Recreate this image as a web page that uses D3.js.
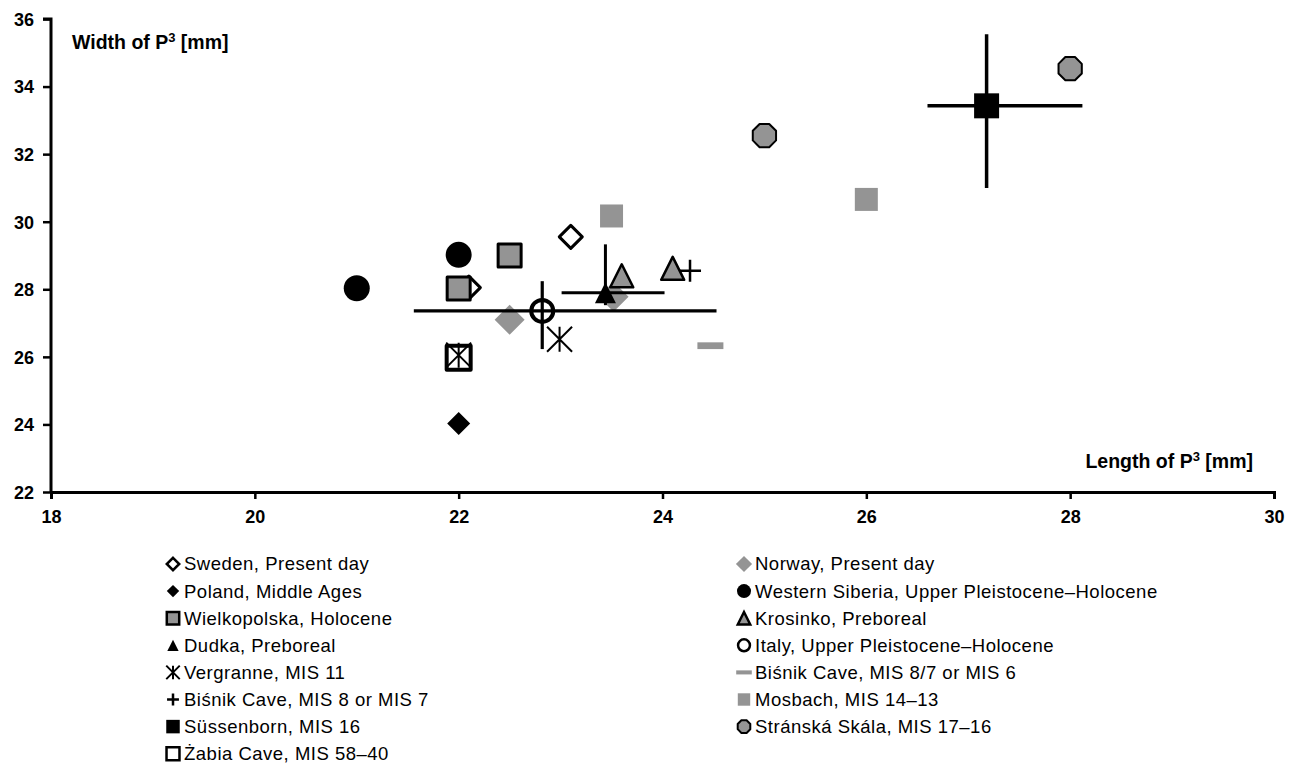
<!DOCTYPE html>
<html>
<head>
<meta charset="utf-8">
<script src="https://cdn.jsdelivr.net/npm/d3@7"></script>
<style>
  html, body { margin: 0; padding: 0; background: #fff; }
  svg { display: block; font-family: "Liberation Sans", Arial, sans-serif; }
</style>
</head>
<body>
<svg id="chart" width="1297" height="764"></svg>
<script>
// Axis ticks
const xTicks = [18, 20, 22, 24, 26, 28, 30];
const yTicks = [22, 24, 26, 28, 30, 32, 34, 36];

// P3 measurements per sample: [length, width] in mm
const sweden      = [[23.1, 29.55], [22.1, 28.05]];
const norway      = [[22.5, 27.1], [23.52, 27.78]];
const poland      = [[22.0, 24.03]];
const westSiberia = [[21.0, 28.03], [22.0, 29.02]];
const wielkopolska = [[22.0, 28.02], [22.5, 29.0]];
const krosinko    = [[23.6, 28.4], [24.1, 28.62]];
const dudka       = [[23.44, 27.9]];
const italy       = [[22.82, 27.36]];
const vergranne   = [[22.99, 26.52], [22.0, 26.05]];
const bisnik876   = [[24.47, 26.33]];
const bisnik87    = [[24.27, 28.55]];
const mosbach     = [[23.5, 30.17], [26.0, 30.66]];
const sussenborn  = [[27.18, 33.43]];
const stranska    = [[28.0, 34.53], [25.0, 32.55]];
const zabia       = [[22.0, 25.97]];

// Ranges (min/max) shown as cross bars: [xMin, xMax, yMin, yMax]
const dudkaRange      = [23.01, 24.02, 27.53, 29.33];
const italyRange      = [21.56, 24.53, 26.23, 28.24];
const sussenbornRange = [26.6, 28.12, 31.0, 35.55];

const legendNames = [
  "Sweden, Present day", "Norway, Present day",
  "Poland, Middle Ages", "Western Siberia, Upper Pleistocene\u2013Holocene",
  "Wielkopolska, Holocene", "Krosinko, Preboreal",
  "Dudka, Preboreal", "Italy, Upper Pleistocene\u2013Holocene",
  "Vergranne, MIS 11", "Bi\u015bnik Cave, MIS 8/7 or MIS 6",
  "Bi\u015bnik Cave, MIS 8 or MIS 7", "Mosbach, MIS 14\u201313",
  "S\u00fcssenborn, MIS 16", "Str\u00e1nsk\u00e1 Sk\u00e1la, MIS 17\u201316",
  "\u017babia Cave, MIS 58\u201340"
];

const GRAY = "#949494";

const series = [
  { data: sweden,       shape: "diamond",  size: 23, fill: "#fff", stroke: "#000", sw: 3 },
  { data: norway,       shape: "diamond",  size: 30, fill: GRAY,   stroke: "none", sw: 0 },
  { data: poland,       shape: "diamond",  size: 23, fill: "#000", stroke: "none", sw: 0 },
  { data: westSiberia,  shape: "circle",   size: 26, fill: "#000", stroke: "none", sw: 0 },
  { data: wielkopolska, shape: "square",   size: 23, fill: GRAY,   stroke: "#000", sw: 3 },
  { data: krosinko,     shape: "triangle", size: 23, fill: GRAY,   stroke: "#000", sw: 2.5 },
  { data: dudka,        shape: "triangle", size: 21, fill: "#000", stroke: "none", sw: 0 },
  { data: italy,        shape: "circle",   size: 22, fill: "#fff", stroke: "#000", sw: 4 },
  { data: vergranne,    shape: "asterisk", size: 25, fill: "none", stroke: "#000", sw: 2 },
  { data: bisnik876,    shape: "dash",     size: 26, fill: GRAY,   stroke: "none", sw: 0 },
  { data: bisnik87,     shape: "plus",     size: 22, fill: "none", stroke: "#000", sw: 2.5 },
  { data: mosbach,      shape: "square",   size: 23, fill: GRAY,   stroke: "none", sw: 0 },
  { data: sussenborn,   shape: "square",   size: 25, fill: "#000", stroke: "none", sw: 0 },
  { data: stranska,     shape: "octagon",  size: 24, fill: GRAY,   stroke: "#000", sw: 2 },
  { data: zabia,        shape: "square",   size: 24, fill: "none", stroke: "#000", sw: 4 }
];
series.forEach((s, i) => s.name = legendNames[i]);

// Legend runs in two columns: even entries left, odd entries right
const legendOrder = [0, 2, 4, 6, 8, 10, 12, 14, 1, 3, 5, 7, 9, 11, 13];

const svg = d3.select("#chart");
const margin = { left: 51, right: 1274, top: 19, bottom: 492 };

const x = d3.scaleLinear().domain([18, 30]).range([margin.left, margin.right]);
const y = d3.scaleLinear().domain([22, 36]).range([margin.bottom, margin.top]);

// Path for a marker of a given full size, centred at 0,0
function shapePath(shape, s) {
  const h = s / 2;
  const p = d3.path();
  switch (shape) {
    case "diamond":
      p.moveTo(0, -h); p.lineTo(h, 0); p.lineTo(0, h); p.lineTo(-h, 0); p.closePath(); break;
    case "square":
      p.rect(-h, -h, s, s); break;
    case "triangle":
      p.moveTo(0, -h); p.lineTo(h, h); p.lineTo(-h, h); p.closePath(); break;
    case "circle":
      p.arc(0, 0, h, 0, 2 * Math.PI); p.closePath(); break;
    case "octagon":
      for (let k = 0; k < 8; k++) {
        const a = Math.PI / 8 + k * Math.PI / 4;
        const r = h / Math.cos(Math.PI / 8) * 0.97;
        const px = r * Math.cos(a), py = r * Math.sin(a);
        if (k === 0) p.moveTo(px, py); else p.lineTo(px, py);
      }
      p.closePath(); break;
    case "asterisk":
      p.moveTo(-h, -h); p.lineTo(h, h);
      p.moveTo(h, -h); p.lineTo(-h, h);
      p.moveTo(0, -h); p.lineTo(0, h); break;
    case "plus":
      p.moveTo(-h, 0); p.lineTo(h, 0);
      p.moveTo(0, -h); p.lineTo(0, h); break;
    case "dash":
      p.rect(-h, -s * 0.13, s, s * 0.26); break;
  }
  return p.toString();
}

// Axes
const yAxis = d3.axisLeft(y).tickValues(yTicks).tickSize(8).tickPadding(9).tickFormat(d3.format("d"));
const xAxis = d3.axisBottom(x).tickValues(xTicks).tickSize(7).tickPadding(11).tickFormat(d3.format("d"));

const gy = svg.append("g").attr("transform", `translate(${margin.left},0)`).call(yAxis);
const gx = svg.append("g").attr("transform", `translate(0,${margin.bottom})`).call(xAxis);
[gx, gy].forEach(g => {
  g.select(".domain").attr("stroke", "#000").attr("stroke-width", 3);
  g.selectAll(".tick line").attr("stroke", "#000").attr("stroke-width", 2.5);
  g.selectAll(".tick text").attr("fill", "#000").attr("font-size", 18).attr("font-weight", "bold")
    .attr("font-family", "'Liberation Sans', Arial, sans-serif");
});
gy.select(".domain").attr("d", `M-8,${margin.top}H0V${margin.bottom}`);
gy.selectAll(".tick text").attr("dy", "0.35em");

// Axis titles
function axisTitle(tx, ty, anchor, word) {
  const t = svg.append("text").attr("x", tx).attr("y", ty).attr("text-anchor", anchor)
    .attr("font-size", 19.5).attr("font-weight", "bold").attr("fill", "#000");
  t.append("tspan").text(word + " of P");
  t.append("tspan").attr("font-size", 13).attr("dy", -7).text("3");
  t.append("tspan").attr("dy", 7).text(" [mm]");
}
axisTitle(72, 49, "start", "Width");
axisTitle(1253, 468, "end", "Length");

// Markers, in series order
const plot = svg.append("g");
series.forEach(s => {
  plot.selectAll(null).data(s.data).enter().append("path")
    .attr("transform", d => `translate(${x(d[0])},${y(d[1])})`)
    .attr("d", shapePath(s.shape, s.size))
    .attr("fill", s.fill)
    .attr("stroke", s.stroke)
    .attr("stroke-width", s.sw)
    .attr("stroke-linejoin", "round");
});

// Range cross bars
const ranges = [
  { pt: dudka[0], r: dudkaRange, w: 3 },
  { pt: italy[0], r: italyRange, w: 3.2 },
  { pt: sussenborn[0], r: sussenbornRange, w: 3.5 }
];
ranges.forEach(b => {
  const g = plot.append("g").attr("stroke", "#000").attr("stroke-width", b.w);
  g.append("line").attr("x1", x(b.r[0])).attr("x2", x(b.r[1]))
    .attr("y1", y(b.pt[1])).attr("y2", y(b.pt[1]));
  g.append("line").attr("x1", x(b.pt[0])).attr("x2", x(b.pt[0]))
    .attr("y1", y(b.r[2])).attr("y2", y(b.r[3]));
});

// Legend
const legend = svg.append("g");
legendOrder.forEach((si, k) => {
  const s = series[si];
  const col = k < 8 ? 0 : 1;
  const row = col === 0 ? k : k - 8;
  const lx = col === 0 ? 173 : 744;
  const ly = 564 + row * 27.1;
  const scale = s.shape === "dash" ? 0.6 : 0.54;
  legend.append("path")
    .attr("transform", `translate(${lx},${ly})`)
    .attr("d", shapePath(s.shape, s.size * scale))
    .attr("fill", s.fill === "none" && s.shape === "square" ? "#fff" : s.fill)
    .attr("stroke", s.stroke)
    .attr("stroke-width", Math.min(s.sw, 2.5) || 0);
  legend.append("text")
    .attr("x", lx + 11).attr("y", ly).attr("dy", "0.35em")
    .attr("font-size", 18.5).attr("letter-spacing", 0.5).attr("fill", "#000")
    .text(s.name);
});
</script>
</body>
</html>
